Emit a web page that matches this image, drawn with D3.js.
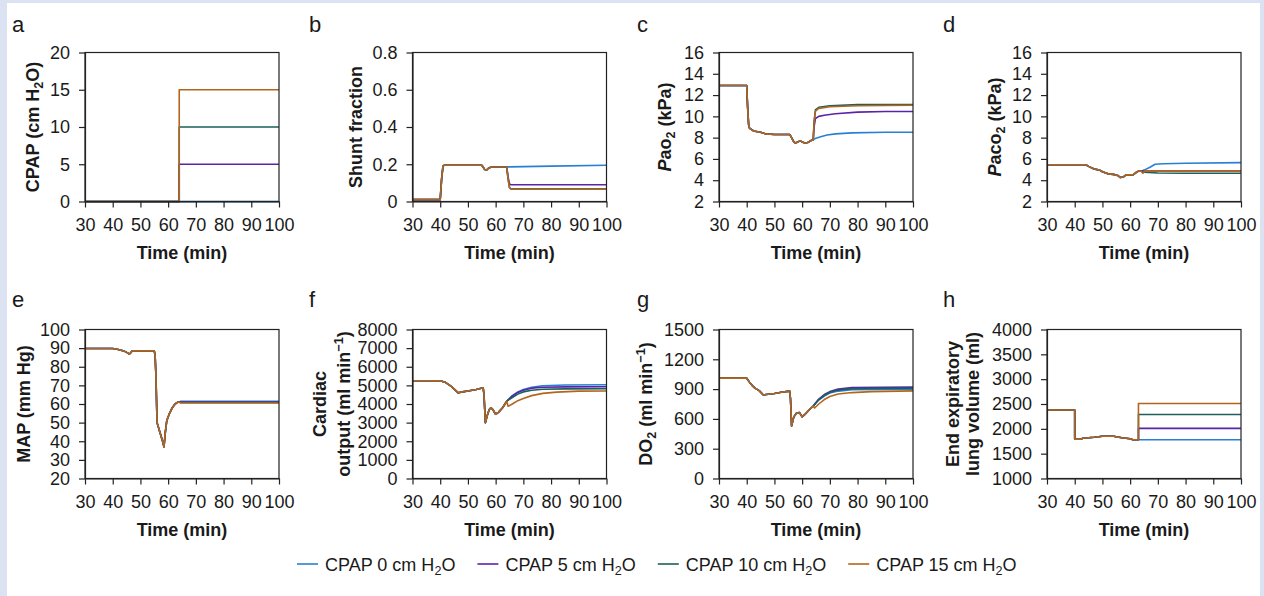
<!DOCTYPE html>
<html>
<head>
<meta charset="utf-8">
<script src="https://cdn.jsdelivr.net/npm/d3@7"></script>
<style>
body { margin: 0; background: #dbe2f2; }
text { font-family: Arial, "Liberation Sans", sans-serif; fill: #1a1a1a; }
</style>
</head>
<body>
<div id="chart"></div>
<script>
// ---- data ----
var seriesNames = ["CPAP 0 cm H", "CPAP 5 cm H", "CPAP 10 cm H", "CPAP 15 cm H"];
var seriesColors = ["#2a7fd4", "#5b24a6", "#1d5f5a", "#b3651e"];
var timeTicks = [30, 40, 50, 60, 70, 80, 90, 100];

// a: CPAP
var cpapBase = [[30, 0], [64, 0]];
var cpapPost = [
  [[64, 0], [100, 0]],
  [[64, 5], [100, 5]],
  [[64, 10], [100, 10]],
  [[64, 15], [100, 15]]
];
var cpapTicks = [0, 5, 10, 15, 20];

// b: shunt fraction
var shuntBase = [[30, 0.01], [40, 0.01], [40.5, 0.12], [41, 0.19], [41.5, 0.195], [55, 0.195], [55.5, 0.185],
  [56, 0.172], [56.8, 0.17], [57.5, 0.18], [58.5, 0.185], [64, 0.185]];
var shuntPost = [
  [[65, 0.186], [80, 0.19], [100, 0.195]],
  [[64.5, 0.13], [65, 0.095], [65.5, 0.09], [100, 0.09]],
  [[64.5, 0.12], [65, 0.075], [65.5, 0.068], [100, 0.068]],
  [[64.5, 0.12], [65, 0.074], [65.5, 0.067], [100, 0.067]]
];
var shuntTicks = [0, 0.2, 0.4, 0.6, 0.8];

// c: PaO2
var pao2Base = [[30, 12.9], [40, 12.9], [40.3, 11], [40.7, 9.2], [41, 8.9], [42, 8.7], [43, 8.6], [45, 8.5],
  [47, 8.35], [50, 8.3], [55.5, 8.3], [56, 8.1], [57, 7.6], [57.5, 7.5], [58.5, 7.6], [59.3, 7.7], [60, 7.6],
  [61, 7.5], [62, 7.55], [63, 7.7], [64, 7.8]];
var pao2Post = [
  [[65, 7.95], [67, 8.1], [69, 8.25], [72, 8.35], [78, 8.45], [90, 8.5], [100, 8.5]],
  [[64.3, 9], [64.8, 9.8], [66, 10.0], [68, 10.1], [72, 10.25], [80, 10.4], [90, 10.45], [100, 10.45]],
  [[64.3, 9.5], [64.8, 10.6], [66, 10.85], [70, 11.0], [80, 11.1], [100, 11.1]],
  [[64.3, 9.4], [64.8, 10.5], [66, 10.75], [70, 10.9], [80, 11.0], [100, 11.05]]
];
var kpaTicks = [2, 4, 6, 8, 10, 12, 14, 16];

// d: PaCO2
var paco2Base = [[30, 5.45], [44, 5.45], [45, 5.3], [47, 5.05], [49, 4.95], [50, 4.8], [52, 4.6], [54, 4.55],
  [55.5, 4.45], [56.5, 4.25], [57.5, 4.3], [58.5, 4.5], [61, 4.5], [62, 4.7], [63, 4.85], [64, 4.85]];
var paco2Post = [
  [[65, 4.95], [67, 5.2], [69, 5.5], [72, 5.55], [80, 5.6], [100, 5.65]],
  [[65, 4.85], [100, 4.85]],
  [[65, 4.75], [70, 4.68], [80, 4.65], [100, 4.65]],
  [[64.6, 4.65], [65.2, 4.85], [100, 4.85]]
];

// e: MAP
var mapBase = [[30, 89.8], [40, 89.8], [42, 89.3], [44, 88.5], [45.5, 87.3], [46, 86.8], [46.5, 87.5], [47, 88.5],
  [55, 88.5], [55.3, 86], [55.6, 75], [56, 50], [57, 45], [58, 40], [58.5, 37], [59, 45], [59.5, 51], [60.5, 55],
  [61.5, 58], [62.5, 60], [63.5, 61], [64, 61]];
var mapPost = [
  [[64.5, 61.5], [100, 61.5]],
  [[64.5, 61], [100, 61]],
  [[64.5, 60.8], [100, 60.8]],
  [[64.5, 60.5], [100, 60.5]]
];
var mapTicks = [20, 30, 40, 50, 60, 70, 80, 90, 100];

// f: cardiac output
var coBase = [[30, 5250], [40, 5250], [42, 5150], [44, 4950], [46.5, 4600], [48, 4650], [50, 4700], [53, 4780],
  [55.5, 4870], [55.8, 4500], [56.3, 3000], [57, 3400], [57.7, 3700], [58.3, 3800], [59, 3700], [60, 3450],
  [61, 3550], [62.5, 3800], [64, 4150]];
var coPost = [
  [[66, 4450], [68, 4650], [70, 4780], [73, 4900], [77, 4980], [85, 5020], [100, 5030]],
  [[66, 4420], [68, 4620], [70, 4740], [73, 4850], [77, 4900], [85, 4920], [100, 4930]],
  [[66, 4350], [68, 4530], [70, 4650], [73, 4740], [77, 4790], [85, 4810], [100, 4820]],
  [[64.5, 3880], [66, 4000], [68, 4180], [70, 4300], [73, 4450], [77, 4570], [82, 4640], [90, 4690], [100, 4700]]
];
var coTicks = [0, 1000, 2000, 3000, 4000, 5000, 6000, 7000, 8000];

// g: oxygen delivery
var do2Base = [[30, 1010], [40, 1010], [41, 970], [42, 935], [43, 910], [44.5, 885], [46, 840], [47, 845],
  [50, 855], [53, 870], [55.5, 880], [55.8, 800], [56.2, 530], [57, 620], [58, 660], [59, 665], [60, 620],
  [61, 645], [62.5, 690], [64, 730]];
var do2Post = [
  [[66, 790], [68, 830], [70, 860], [73, 880], [78, 895], [100, 900]],
  [[66, 800], [68, 845], [70, 875], [73, 900], [78, 915], [100, 920]],
  [[66, 795], [68, 838], [70, 868], [73, 890], [78, 905], [100, 910]],
  [[64.5, 710], [66, 750], [68, 795], [70, 825], [73, 850], [78, 865], [85, 875], [100, 882]]
];
var do2Ticks = [0, 300, 600, 900, 1200, 1500];

// h: end expiratory lung volume
var eelvBase = [[30, 2380], [40, 2380], [40, 1790], [42, 1790], [43, 1810], [47, 1830], [50, 1850], [54, 1850],
  [57, 1820], [60, 1800], [61, 1780], [63, 1780]];
var eelvPost = [
  [[100, 1780]],
  [[63, 2010], [100, 2010]],
  [[63, 2290], [100, 2290]],
  [[63, 2510], [100, 2510]]
];
var eelvTicks = [1000, 1500, 2000, 2500, 3000, 3500, 4000];

// ---- layout ----
var width = 1264, height = 596;
var colX = [85, 412.5, 719, 1047], rowY = [52.5, 329.5];
var pw = 194, ph = 149;
var letterX = [12, 309, 637, 943], letterY = [32, 307];

var svg = d3.select("#chart").append("svg")
  .attr("width", width).attr("height", height);
svg.append("rect").attr("width", width).attr("height", height).attr("fill", "#dbe2f2");
svg.append("rect").attr("x", 7).attr("y", 3).attr("width", 1253).attr("height", 593).attr("fill", "#ffffff");

// text with sub/superscripts and italics
function richText(sel, parts) {
  var shift = 0;
  parts.forEach(function(p) {
    var t = sel.append("tspan").text(p[0]);
    var target = 0;
    if (p[1] === "sub") target = 4;
    if (p[1] === "sup") target = -7;
    t.attr("dy", target - shift);
    shift = target;
    if (p[1] === "sub" || p[1] === "sup") t.attr("font-size", "0.7em");
    if (p[1] === "it") t.attr("font-style", "italic");
  });
}

var panels = [
  {letter: "a", col: 0, row: 0, ticks: cpapTicks, base: cpapBase, post: cpapPost,
   ylab: [[["CPAP (cm H", ""], ["2", "sub"], ["O)", ""]]], yoff: [-52]},
  {letter: "b", col: 1, row: 0, ticks: shuntTicks, base: shuntBase, post: shuntPost,
   fmt: function(d) { return d === 0 ? "0" : d.toFixed(1); },
   ylab: [[["Shunt fraction", ""]]], yoff: [-57]},
  {letter: "c", col: 2, row: 0, ticks: kpaTicks, base: pao2Base, post: pao2Post,
   ylab: [[["P", "it"], ["ao", ""], ["2", "sub"], [" (kPa)", ""]]], yoff: [-54]},
  {letter: "d", col: 3, row: 0, ticks: kpaTicks, base: paco2Base, post: paco2Post,
   ylab: [[["P", "it"], ["aco", ""], ["2", "sub"], [" (kPa)", ""]]], yoff: [-52]},
  {letter: "e", col: 0, row: 1, ticks: mapTicks, base: mapBase, post: mapPost,
   ylab: [[["MAP (mm Hg)", ""]]], yoff: [-61]},
  {letter: "f", col: 1, row: 1, ticks: coTicks, base: coBase, post: coPost,
   ylab: [[["Cardiac", ""]], [["output (ml min", ""], ["\u22121", "sup"], [")", ""]]], yoff: [-93, -69]},
  {letter: "g", col: 2, row: 1, ticks: do2Ticks, base: do2Base, post: do2Post,
   ylab: [[["DO", ""], ["2", "sub"], [" (ml min", ""], ["\u22121", "sup"], [")", ""]]], yoff: [-73]},
  {letter: "h", col: 3, row: 1, ticks: eelvTicks, base: eelvBase, post: eelvPost,
   ylab: [[["End expiratory", ""]], [["lung volume (ml)", ""]]], yoff: [-94, -74]}
];

panels.forEach(function(p) {
  var left = colX[p.col], top = rowY[p.row];
  var g = svg.append("g").attr("transform", "translate(" + left + "," + top + ")");

  var x = d3.scaleLinear().domain([30, 100]).range([0, pw]);
  var y = d3.scaleLinear().domain([p.ticks[0], p.ticks[p.ticks.length - 1]]).range([ph, 0]);

  // lines
  var line = d3.line().x(function(d) { return x(d[0]); }).y(function(d) { return y(d[1]); });
  p.post.forEach(function(post, i) {
    g.append("path")
      .datum(p.base.concat(post))
      .attr("d", line)
      .attr("fill", "none")
      .attr("stroke", seriesColors[i])
      .attr("stroke-width", 1.6)
      .attr("stroke-linejoin", "round");
  });

  // frame
  g.append("rect").attr("width", pw).attr("height", ph)
    .attr("fill", "none").attr("stroke", "#222").attr("stroke-width", 1.2);

  var xAxis = g.append("g").attr("transform", "translate(0," + ph + ")")
    .call(d3.axisBottom(x).tickValues(timeTicks).tickSize(6).tickSizeOuter(0).tickPadding(11).tickFormat(d3.format("d")));
  var yAxis = g.append("g")
    .call(d3.axisLeft(y).tickValues(p.ticks).tickSize(6).tickSizeOuter(0).tickPadding(9)
      .tickFormat(p.fmt || d3.format("d")));
  [xAxis, yAxis].forEach(function(a) {
    a.selectAll("path").attr("stroke", "#222").attr("stroke-width", 1.2);
    a.selectAll("line").attr("stroke", "#222").attr("stroke-width", 1.2);
    a.selectAll("text").attr("font-size", 18).attr("fill", "#1a1a1a")
      .attr("font-family", "Arial, 'Liberation Sans', sans-serif");
  });

  // x title
  g.append("text").attr("x", pw / 2).attr("y", ph + 57)
    .attr("text-anchor", "middle").attr("font-size", 18).attr("font-weight", "bold")
    .text("Time (min)");

  // y title(s); baseline sits ~6px right of the glyph centre
  p.ylab.forEach(function(parts, i) {
    var t = g.append("text")
      .attr("transform", "translate(" + (p.yoff[i] + 6) + "," + (ph / 2) + ") rotate(-90)")
      .attr("text-anchor", "middle").attr("font-size", 18).attr("font-weight", "bold");
    richText(t, parts);
  });

  // panel letter
  svg.append("text").attr("x", letterX[p.col]).attr("y", letterY[p.row])
    .attr("font-size", 22).text(p.letter);
});

// legend
var lx = 297, ly = 564;
seriesNames.forEach(function(name, i) {
  svg.append("line").attr("x1", lx).attr("x2", lx + 21).attr("y1", ly).attr("y2", ly)
    .attr("stroke", seriesColors[i]).attr("stroke-width", 1.6);
  var t = svg.append("text").attr("x", lx + 28).attr("y", ly + 7).attr("font-size", 18);
  richText(t, [[name, ""], ["2", "sub"], ["O", ""]]);
  lx = lx + 28 + t.node().getComputedTextLength() + 22;
});
</script>
</body>
</html>
